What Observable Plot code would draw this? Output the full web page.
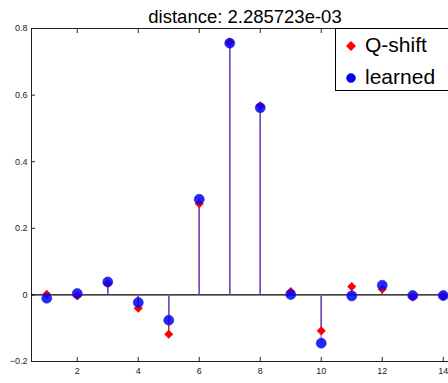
<!DOCTYPE html>
<html><head><meta charset="utf-8">
<script src="https://cdn.jsdelivr.net/npm/d3@7"></script>
<script src="https://cdn.jsdelivr.net/npm/@observablehq/plot@0.6"></script>
<style>
html,body{margin:0;padding:0;overflow:hidden;background:#fff;width:448px;height:383px}
#wrap{position:relative;width:448px;height:383px;overflow:hidden}
#chart{width:460px}
#legend{position:absolute;left:335px;top:28px;width:130px;height:61px;border:1px solid #000;background:#fff;font-family:"Liberation Sans",Arial,sans-serif;font-size:21px;color:#000}
.row{position:absolute;left:0;height:26px;line-height:26px}
.row span{position:absolute;left:29px;white-space:nowrap}
.row svg{position:absolute;left:9px;top:8px}
</style></head>
<body><div id="wrap"><div id="chart"></div>
<div id="legend">
<div class="row" style="top:3px"><svg width="12" height="12"><path d="M6,1L11,6L6,11L1,6Z" fill="#ff0000"/></svg><span>Q-shift</span></div>
<div class="row" style="top:35px"><svg width="12" height="12"><circle cx="6" cy="6" r="4.5" fill="#0000ff" stroke="#2222bb" stroke-width="0.6"/></svg><span>learned</span></div>
</div></div>
<script>
const title = "distance: 2.285723e-03";
const idx = [1,2,3,4,5,6,7,8,9,10,11,12,13,14];
const qshift = [0.002,-0.003,0.034,-0.040,-0.118,0.274,0.759,0.568,0.010,-0.108,0.025,0.017,-0.006,-0.004];
const learned = [-0.010,0.004,0.039,-0.023,-0.076,0.287,0.756,0.562,0.001,-0.145,-0.003,0.029,-0.002,-0.002];
const xTicks = [2,4,6,8,10,12,14];
const yTicks = [-0.2,0,0.2,0.4,0.6,0.8];

const q = idx.map((x,i)=>({x, v: qshift[i]}));
const l = idx.map((x,i)=>({x, v: learned[i]}));

const chart = Plot.plot({
  width: 460, height: 383,
  marginLeft: 31, marginRight: 2, marginTop: 28, marginBottom: 22,
  style: {fontFamily: "'Liberation Sans', Arial, sans-serif", fontSize: "9px", color: "#222", background: "#fff", maxWidth: "none"},
  x: {domain: [0.5, 14.5]},
  y: {domain: [-0.2, 0.8]},
  marks: [
    Plot.frame({stroke: "#222"}),
    Plot.axisX(xTicks, {anchor: "bottom", tickSize: -4, tickPadding: 10, label: null, fontSize: 9}),
    Plot.axisX(xTicks, {anchor: "top", tickSize: -4, tickFormat: () => "", label: null}),
    Plot.axisY(yTicks, {anchor: "left", tickSize: -4, tickPadding: 8, label: null, tickFormat: d => d === 0 ? "0" : d3.format(".1f")(d), fontSize: 9}),
    Plot.ruleY([0], {stroke: "#000", strokeWidth: 1.2}),
    Plot.ruleX(q, {x: "x", y1: 0, y2: "v", stroke: "#c03030", strokeWidth: 1.5}),
    Plot.ruleX(l, {x: "x", y1: 0, y2: "v", stroke: "#4a5aff", strokeOpacity: 0.7, strokeWidth: 1.5}),
    Plot.dot(q, {x: "x", y: "v", symbol: "diamond2", r: 4.1, fill: "#ff0000", stroke: "none"}),
    Plot.dot(l, {x: "x", y: "v", symbol: "circle", r: 5, fill: "#0000ff", fillOpacity: 0.85, stroke: "#2020c0", strokeWidth: 0.6}),
    Plot.text([title], {frameAnchor: "top", dy: -19, text: d => d, fontSize: 18.5, fill: "#000"})
  ]
});
document.getElementById("chart").appendChild(chart);
</script></body></html>
